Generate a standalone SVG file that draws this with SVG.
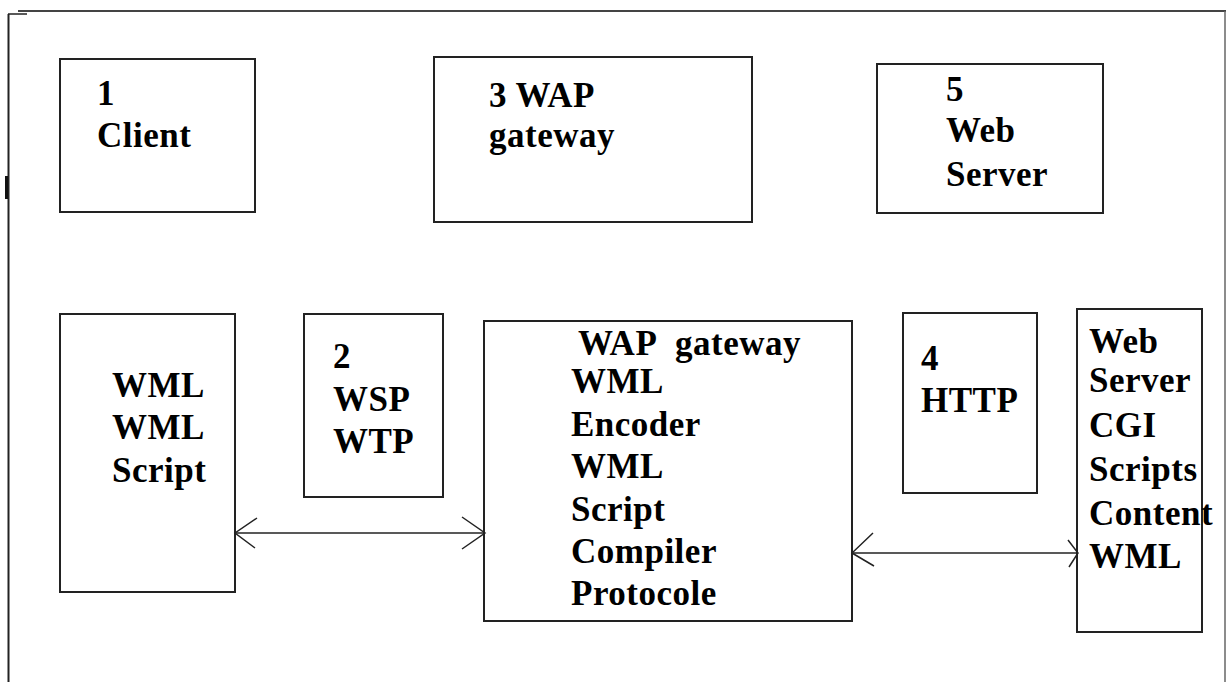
<svg xmlns="http://www.w3.org/2000/svg" width="1226" height="682" viewBox="0 0 1226 682">
<style>
.box{fill:none;stroke:#222;stroke-width:2}
.t{font-family:"Liberation Serif","Times New Roman",serif;font-weight:bold;font-size:35px;letter-spacing:0.5px;fill:#000}
.ln{stroke:#222;stroke-width:1.5;fill:none}
</style>
<rect width="1226" height="682" fill="#fff"/>
<g id="frame">
<line x1="18" y1="11" x2="1226" y2="11" stroke="#444" stroke-width="2"/>
<line x1="8" y1="14" x2="27" y2="14" stroke="#222" stroke-width="1.5"/>
<line x1="8.5" y1="14" x2="8.5" y2="682" stroke="#222" stroke-width="2"/>
<line x1="6.5" y1="176" x2="6.5" y2="199" stroke="#111" stroke-width="3"/>
<line x1="1225" y1="11" x2="1225" y2="682" stroke="#666" stroke-width="1.5"/>
</g>
<g id="client">
<rect class="box" x="60" y="59" width="195" height="153"/>
<text class="t" x="97" y="105">1</text>
<text class="t" x="97" y="147">Client</text>
</g>
<g id="wap-top">
<rect class="box" x="434" y="57" width="318" height="165"/>
<text class="t" x="489" y="107">3 WAP</text>
<text class="t" x="489" y="147">gateway</text>
</g>
<g id="web-top">
<rect class="box" x="877" y="64" width="226" height="149"/>
<text class="t" x="946" y="101">5</text>
<text class="t" x="946" y="142">Web</text>
<text class="t" x="946" y="186">Server</text>
</g>
<g id="wml">
<rect class="box" x="60" y="314" width="175" height="278"/>
<text class="t" x="112" y="397">WML</text>
<text class="t" x="112" y="439">WML</text>
<text class="t" x="112" y="482">Script</text>
</g>
<g id="wsp">
<rect class="box" x="304" y="314" width="139" height="183"/>
<text class="t" x="333" y="368">2</text>
<text class="t" x="333" y="411">WSP</text>
<text class="t" x="333" y="453">WTP</text>
</g>
<g id="gateway">
<rect class="box" x="484" y="321" width="368" height="300"/>
<text class="t" y="355"><tspan x="578">WAP</tspan><tspan x="675">gateway</tspan></text>
<text class="t" x="571" y="393">WML</text>
<text class="t" x="571" y="436">Encoder</text>
<text class="t" x="571" y="478">WML</text>
<text class="t" x="571" y="521">Script</text>
<text class="t" x="571" y="563">Compiler</text>
<text class="t" x="571" y="605">Protocole</text>
</g>
<g id="http">
<rect class="box" x="903" y="313" width="134" height="180"/>
<text class="t" x="921" y="370">4</text>
<text class="t" x="921" y="412">HTTP</text>
</g>
<g id="webserver">
<rect class="box" x="1077" y="309" width="125" height="323"/>
<text class="t" x="1089" y="353">Web</text>
<text class="t" x="1089" y="392">Server</text>
<text class="t" x="1089" y="437">CGI</text>
<text class="t" x="1089" y="481">Scripts</text>
<text class="t" x="1089" y="525">Content</text>
<text class="t" x="1089" y="568">WML</text>
</g>
<g id="connectors">
<line class="ln" x1="235" y1="533" x2="485" y2="533"/>
<polyline class="ln" points="257,518 235,533 255,548"/>
<polyline class="ln" points="462,517 485,533 462,549"/>
<line class="ln" x1="852" y1="553" x2="1078" y2="553"/>
<polyline class="ln" points="873,533 852,553 874,566"/>
<polyline class="ln" points="1068,540 1078,553 1069,567"/>
</g>
</svg>
